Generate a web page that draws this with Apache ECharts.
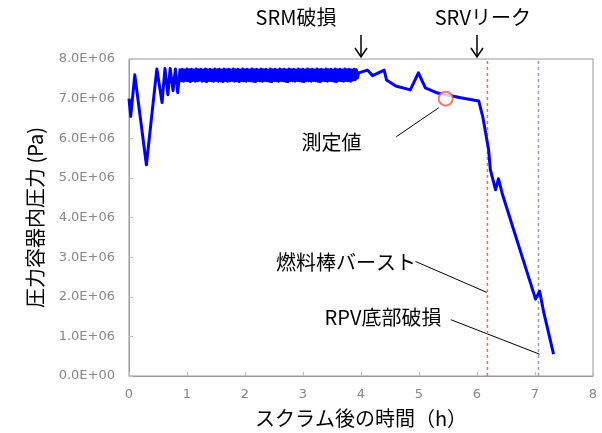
<!DOCTYPE html>
<html><head><meta charset="utf-8">
<script src="https://cdn.jsdelivr.net/npm/echarts@6/dist/echarts.min.js"></script>
<style>html,body{margin:0;padding:0;background:#fff}#c{width:602px;height:433px}</style>
</head><body><div id="c"></div>
<script>
// Time after scram (h)
const times = [
 0.00,0.03,0.10,0.30,0.48,0.57,0.62,0.67,0.71,0.76,0.80,0.84,
 0.88,0.90,0.92,0.94,0.96,0.98,1.00,1.02,1.04,1.06,
 1.08,1.10,1.12,1.14,1.16,1.18,1.20,1.22,1.24,1.26,
 1.28,1.30,1.32,1.34,1.36,1.38,1.40,1.42,1.44,1.46,
 1.48,1.50,1.52,1.54,1.56,1.58,1.60,1.62,1.64,1.66,
 1.68,1.70,1.72,1.74,1.76,1.78,1.80,1.82,1.84,1.86,
 1.88,1.90,1.92,1.94,1.96,1.98,2.00,2.02,2.04,2.06,
 2.08,2.10,2.12,2.14,2.16,2.18,2.20,2.22,2.24,2.26,
 2.28,2.30,2.32,2.34,2.36,2.38,2.40,2.42,2.44,2.46,
 2.48,2.50,2.52,2.54,2.56,2.58,2.60,2.62,2.64,2.66,
 2.68,2.70,2.72,2.74,2.76,2.78,2.80,2.82,2.84,2.86,
 2.88,2.90,2.92,2.94,2.96,2.98,3.00,3.02,3.04,3.06,
 3.08,3.10,3.12,3.14,3.16,3.18,3.20,3.22,3.24,3.26,
 3.28,3.30,3.32,3.34,3.36,3.38,3.40,3.42,3.44,3.46,
 3.48,3.50,3.52,3.54,3.56,3.58,3.60,3.62,3.64,3.66,
 3.68,3.70,3.72,3.74,3.76,3.78,3.80,3.82,3.84,3.86,
 3.88,3.90,3.92,3.94,3.96,
 4.11,4.20,4.40,4.44,4.60,4.85,4.99,5.11,5.32,5.72,6.03,6.10,
 6.20,6.23,6.32,6.37,6.44,7.01,7.08,7.15,7.32
];
// Pressure (x1e6 Pa)
const pressure = [
 7.00,6.55,7.60,5.33,7.75,6.90,7.76,7.10,7.76,7.20,7.75,7.15,
 7.73,7.45,7.74,7.44,7.72,7.46,7.75,7.45,7.73,7.43,
 7.74,7.46,7.72,7.44,7.75,7.45,7.73,7.47,7.74,7.44,
 7.72,7.45,7.75,7.43,7.73,7.46,7.74,7.45,7.72,7.44,
 7.75,7.46,7.73,7.44,7.74,7.45,7.72,7.43,7.75,7.46,
 7.73,7.44,7.74,7.45,7.72,7.46,7.75,7.44,7.73,7.45,
 7.74,7.43,7.72,7.46,7.75,7.45,7.73,7.44,7.74,7.46,
 7.72,7.45,7.75,7.44,7.73,7.43,7.74,7.46,7.72,7.45,
 7.75,7.44,7.73,7.46,7.74,7.45,7.72,7.44,7.75,7.43,
 7.73,7.46,7.74,7.45,7.72,7.44,7.75,7.46,7.73,7.45,
 7.74,7.44,7.72,7.43,7.75,7.46,7.73,7.45,7.74,7.44,
 7.72,7.46,7.75,7.45,7.73,7.44,7.74,7.43,7.72,7.46,
 7.75,7.45,7.73,7.44,7.74,7.46,7.72,7.45,7.75,7.44,
 7.73,7.43,7.74,7.46,7.72,7.45,7.75,7.44,7.73,7.46,
 7.74,7.45,7.72,7.44,7.75,7.43,7.73,7.46,7.74,7.45,
 7.72,7.44,7.75,7.46,7.73,7.45,7.74,7.44,7.72,7.47,
 7.74,7.48,7.73,7.52,7.65,
 7.72,7.58,7.72,7.47,7.32,7.22,7.65,7.27,7.14,7.02,6.94,6.54,
 5.71,5.21,4.70,4.98,4.58,1.94,2.14,1.61,0.55
];
const measuredPoint = [5.46, 7.0];
const burstTime = 6.18;
const rpvTime = 7.06;
const yTicks = ['0.0E+00','1.0E+06','2.0E+06','3.0E+06','4.0E+06','5.0E+06','6.0E+06','7.0E+06','8.0E+06'];
// event arrows: label, arrow time, label center time
const events = [
 {label:'SRM破損', t:4.0, labelT:2.88},
 {label:'SRVリーク', t:6.0, labelT:6.1}
];
// callouts: label, label center [t,P], line from [t,P] to [t,P]
const callouts = [
 {label:'測定値', at:[3.49,5.89], from:[4.61,6.04], to:[5.34,6.77]},
 {label:'燃料棒バースト', at:[3.74,2.87], from:[4.94,2.89], to:[6.17,2.11]},
 {label:'RPV底部破損', at:[4.38,1.48], from:[5.55,1.42], to:[7.08,0.55]}
];

const jp = 'Noto Sans CJK JP';
const chart = echarts.init(document.getElementById('c'), null, {renderer:'canvas'});
const lineData = times.map((t,i)=>[t, pressure[i]]);
chart.setOption({
  animation:false,
  grid:{left:129,right:9,top:59,bottom:56,show:true,borderColor:'#999',borderWidth:1},
  xAxis:{type:'value',min:0,max:8,interval:1,
    name:'スクラム後の時間（h）',nameLocation:'middle',nameGap:32,
    nameTextStyle:{fontFamily:jp,fontSize:20,color:'#000'},
    axisLine:{lineStyle:{color:'#999'}},
    axisTick:{inside:true,length:4,lineStyle:{color:'#bbb'}},
    axisLabel:{margin:12,fontFamily:'DejaVu Sans',fontSize:13,color:'#888'},
    splitLine:{show:false}},
  yAxis:{type:'value',min:0,max:8,interval:1,
    name:'圧力容器内圧力 (Pa)',nameLocation:'middle',nameGap:84,nameRotate:90,
    nameTextStyle:{fontFamily:jp,fontSize:20,color:'#000'},
    axisLine:{show:true,lineStyle:{color:'#999'}},
    axisTick:{show:true,inside:true,length:4,lineStyle:{color:'#bbb'}},
    axisLabel:{margin:14,fontFamily:'DejaVu Sans',fontSize:13,color:'#888',
      formatter:(v)=>yTicks[Math.round(v)]},
    splitLine:{show:false}},
  series:[
    {type:'line',data:[[burstTime,0],[burstTime,8]],symbol:'none',
     lineStyle:{color:'#e07070',width:1.5,type:[3,3]},z:1},
    {type:'line',data:[[rpvTime,0],[rpvTime,8]],symbol:'none',
     lineStyle:{color:'#9a8fd0',width:1.5,type:[3,3]},z:1},
    {type:'line',data:lineData,symbol:'none',
     lineStyle:{color:'#0000ff',width:3,join:'round'},z:3},
    {type:'scatter',data:[measuredPoint],symbol:'circle',symbolSize:14,
     itemStyle:{color:'#fff',borderColor:'#ff5555',borderWidth:2},z:4}
  ]
});

const px = (p)=>chart.convertToPixel({gridIndex:0}, p);
const g = [];
const topY = px([0,8])[1];
events.forEach(e=>{
  const x = px([e.t,8])[0];
  const tipY = topY - 2, tailY = topY - 24;
  g.push({type:'line',shape:{x1:x,y1:tailY,x2:x,y2:tipY},style:{stroke:'#000',lineWidth:1.5}});
  g.push({type:'polyline',shape:{points:[[x-6,tipY-9],[x,tipY],[x+6,tipY-9]]},style:{stroke:'#000',fill:null,lineWidth:1.5}});
  const lx = px([e.labelT,8])[0];
  g.push({type:'text',x:lx,y:tailY-18,style:{text:e.label,fontFamily:jp,fontSize:20,fill:'#000',align:'center',verticalAlign:'middle'}});
});
callouts.forEach(c=>{
  const a = px(c.at), f = px(c.from), t = px(c.to);
  g.push({type:'text',x:a[0],y:a[1],style:{text:c.label,fontFamily:jp,fontSize:20,fill:'#000',align:'center',verticalAlign:'middle'}});
  g.push({type:'line',shape:{x1:f[0],y1:f[1],x2:t[0],y2:t[1]},style:{stroke:'#000',lineWidth:1}});
});
chart.setOption({graphic:g});
</script></body></html>
